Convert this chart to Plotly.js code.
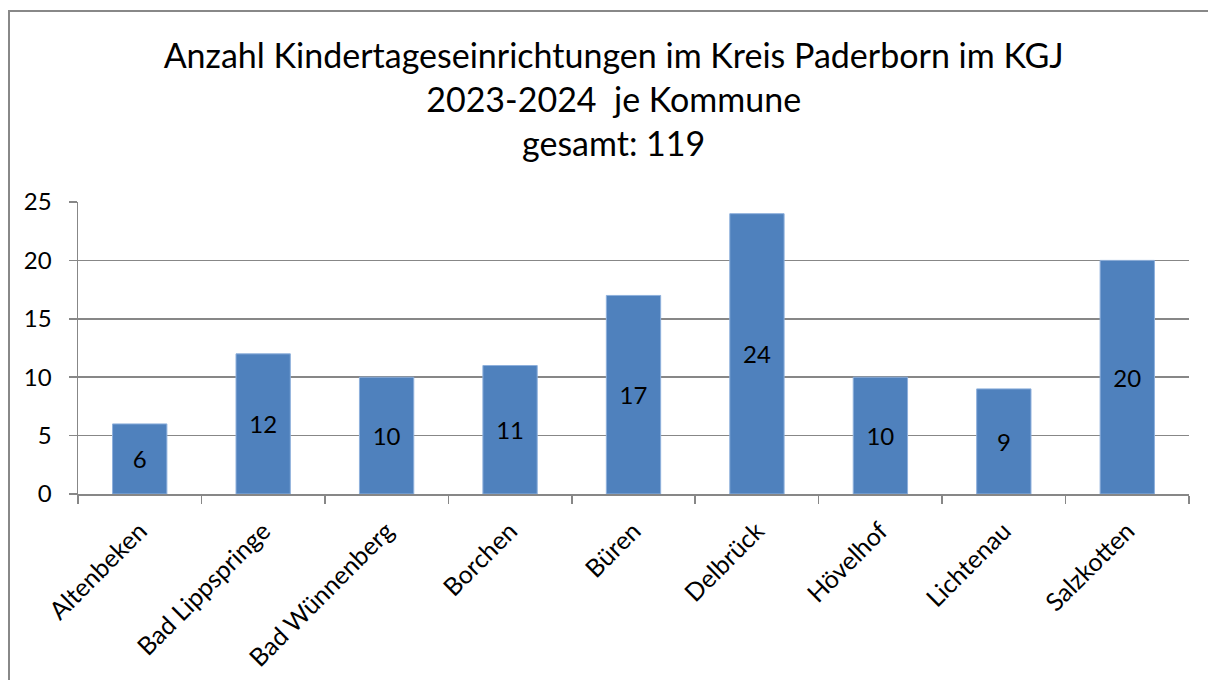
<!DOCTYPE html>
<html>
<head>
<meta charset="utf-8">
<script src="https://cdn.plot.ly/plotly-3.0.1.min.js"></script>
<style>
html,body{margin:0;padding:0;background:#fff;}
#chart{width:1208px;height:680px;}
</style>
</head>
<body>
<div id="chart"></div>
<script>
const communes = ["Altenbeken","Bad Lippspringe","Bad Wünnenberg","Borchen","Büren","Delbrück","Hövelhof","Lichtenau","Salzkotten"];
const facilities = [6,12,10,11,17,24,10,9,20];
const yTicks = [0,5,10,15,20,25];
const titleLines = ["Anzahl Kindertageseinrichtungen im Kreis Paderborn im KGJ","2023-2024  je Kommune","gesamt: 119"];

const FONT = "Lato, 'Open Sans', sans-serif";
const GRID = "#878787";

const trace = {
  type: "bar",
  x: communes,
  y: facilities,
  text: facilities.map(String),
  textposition: "inside",
  insidetextanchor: "middle",
  textangle: 0,
  textfont: {family: FONT, size: 24, color: "#000"},
  marker: {color: "#4F81BD", line: {color: "#8EB0DC", width: 1}},
  hoverinfo: "x+y"
};

const layout = {
  width: 1208, height: 680,
  margin: {l: 78, r: 19, t: 202, b: 186},
  paper_bgcolor: "#fff", plot_bgcolor: "#fff",
  font: {family: FONT, color: "#000"},
  showlegend: false,
  bargap: 0.56,
  title: {
    text: titleLines.join("<br>"),
    font: {family: FONT, size: 34, color: "#000"},
    x: 0.508, xanchor: "center",
    y: 0.9, yanchor: "middle"
  },
  xaxis: {
    type: "category",
    tickson: "boundaries",
    ticks: "outside", ticklen: 8, tickwidth: 1.5, tickcolor: GRID,
    showline: true, linecolor: GRID, linewidth: 1.5,
    showgrid: false,
    tickangle: -45,
    tickfont: {family: FONT, size: 25, color: "#000"},
    ticklabelstandoff: 11,
    fixedrange: true
  },
  yaxis: {
    range: [0, 25],
    tickvals: yTicks,
    ticktext: yTicks.map(String),
    ticks: "outside", ticklen: 8, tickwidth: 1.5, tickcolor: GRID,
    showline: true, linecolor: GRID, linewidth: 1.5,
    showgrid: true, gridcolor: GRID, gridwidth: 1.5,
    zeroline: false,
    tickfont: {family: FONT, size: 24, color: "#000"},
    ticklabelstandoff: 12,
    fixedrange: true
  },
  shapes: [{
    type: "rect", xref: "paper", yref: "paper",
    x0: (9 - 78) / 1111, x1: 1.2,
    y0: -1.0, y1: (494 - 11) / 292,
    line: {color: "#888888", width: 2},
    fillcolor: "rgba(0,0,0,0)",
    layer: "below"
  }]
};

Plotly.newPlot("chart", [trace], layout, {displayModeBar: false, staticPlot: true});
</script>
</body>
</html>
